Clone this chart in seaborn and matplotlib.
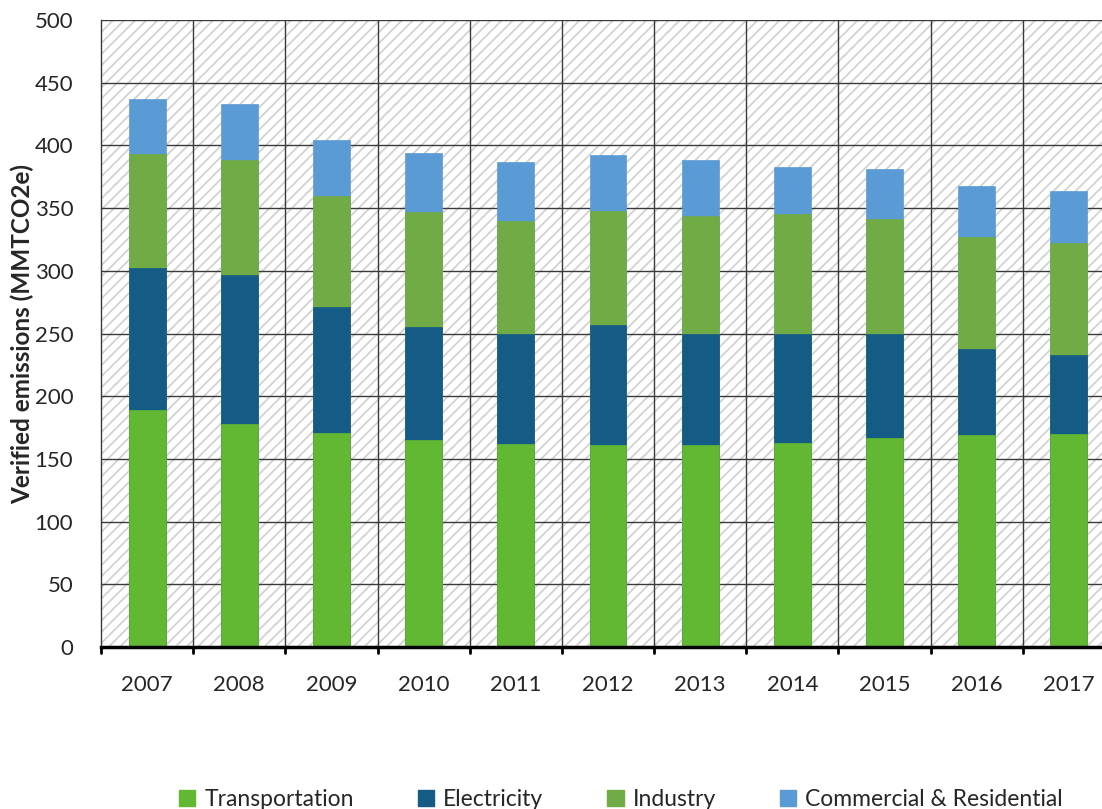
import matplotlib
matplotlib.use("Agg")
import matplotlib.pyplot as plt
import numpy as np
import pandas as pd
import seaborn as sns
from matplotlib.patches import Patch

# Verified emissions by sector (MMTCO2e)
years = ["2007", "2008", "2009", "2010", "2011", "2012", "2013", "2014", "2015", "2016", "2017"]
transportation = [189, 178, 171, 165, 162, 161, 161, 163, 167, 169, 170]
electricity = [113, 119, 100, 90, 88, 96, 89, 87, 83, 69, 63]
industry = [91, 91, 89, 92, 90, 91, 94, 95, 91, 89, 89]
commercial_residential = [44, 45, 44, 47, 47, 44, 44, 38, 40, 41, 42]

sectors = ["Transportation", "Electricity", "Industry", "Commercial & Residential"]
colors = ["#62b832", "#145c85", "#70ab46", "#5b9bd5"]

df = pd.DataFrame({
    "year": years,
    "Transportation": transportation,
    "Electricity": electricity,
    "Industry": industry,
    "Commercial & Residential": commercial_residential,
})
# cumulative tops for stacking
cum = df[sectors].cumsum(axis=1)
cum["year"] = df["year"]

sns.set_style("white")
plt.rcParams["font.family"] = ["Lato", "DejaVu Sans"]
plt.rcParams["hatch.linewidth"] = 1.3

fig = plt.figure(figsize=(11.02, 8.09), dpi=100)
ax = fig.add_axes([101 / 1102, 162 / 809, 1014 / 1102, 627 / 809])

# hatched background
ax.patch.set_facecolor("white")
ax.patch.set_hatch("///")
ax.patch.set_edgecolor("#d2d2d2")
ax.patch.set_linewidth(0)

# draw from the top layer down so each layer overlays the previous
for sector, color in reversed(list(zip(sectors, colors))):
    sns.barplot(data=cum, x="year", y=sector, order=years, color=color,
                width=0.4, saturation=1, ax=ax, zorder=3,
                edgecolor=color, linewidth=0.5)

ax.set_xlim(-0.5, len(years) - 0.5)
ax.set_ylim(0, 500)
ax.set_yticks(np.arange(0, 501, 50))
ax.set_xticks(range(len(years)))
ax.set_xticklabels(years)

# gridlines: horizontal at ticks, vertical between categories
ax.set_axisbelow(True)
for y in np.arange(50, 501, 50):
    ax.axhline(y, color="#3a3a3a", lw=1, zorder=1)
for x in np.arange(0.5, len(years) - 0.5, 1):
    ax.axvline(x, color="#3a3a3a", lw=1, zorder=1)
for x in np.arange(-0.5, len(years) - 0.5, 1):
    ax.plot([x, x], [0, -5], color="black", lw=2, clip_on=False, zorder=4)

for s in ["top", "right"]:
    ax.spines[s].set_visible(False)
ax.spines["left"].set_color("#3a3a3a")
ax.spines["left"].set_linewidth(1)
ax.spines["bottom"].set_color("black")
ax.spines["bottom"].set_linewidth(2.5)
ax.spines["bottom"].set_zorder(5)

ax.tick_params(axis="x", length=0, pad=20, labelsize=16)
ax.tick_params(axis="y", length=0, pad=20, labelsize=16)
ax.set_xlabel("")
ax.set_ylabel("Verified emissions (MMTCO2e)", fontsize=17.5, fontweight="bold", labelpad=0)

handles = [Patch(facecolor=c, edgecolor=c, label=s) for s, c in zip(sectors, colors)]
fig.legend(handles=handles, loc="lower center", bbox_to_anchor=(621 / 1102, -0.027),
           ncol=4, frameon=False, fontsize=16.5, handlelength=0.7, handleheight=0.7,
           handletextpad=0.4, columnspacing=2.8)

fig.savefig("out.png", dpi=100)
